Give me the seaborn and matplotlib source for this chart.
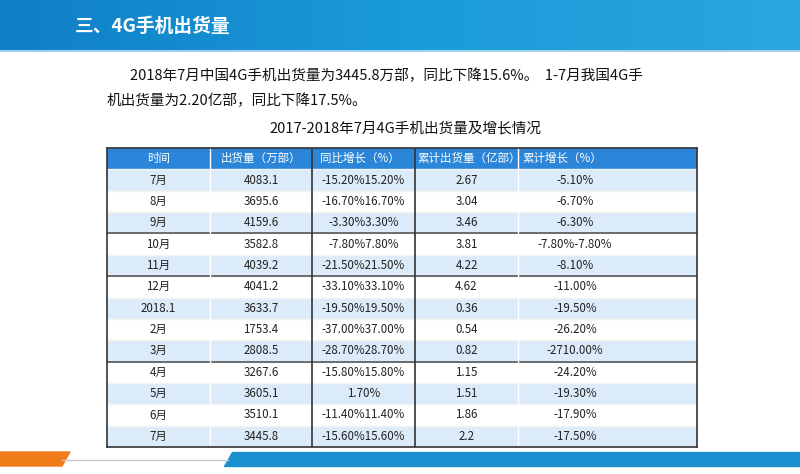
import matplotlib
matplotlib.use("Agg")
import matplotlib.pyplot as plt
import seaborn as sns
import numpy as np
from matplotlib.colors import ListedColormap
from matplotlib.patches import Polygon

sns.set_theme(style="white")
plt.rcParams["font.family"] = ["Noto Sans CJK SC", "Noto Sans CJK JP", "Noto Sans CJK TC", "DejaVu Sans"]
plt.rcParams["axes.unicode_minus"] = False

headers = ["时间", "出货量（万部）", "同比增长（%）", "累计出货量（亿部）", "累计增长（%）"]
months = ["7月", "8月", "9月", "10月", "11月", "12月", "2018.1", "2月", "3月", "4月", "5月", "6月", "7月"]
shipments = ["4083.1", "3695.6", "4159.6", "3582.8", "4039.2", "4041.2", "3633.7", "1753.4", "2808.5",
             "3267.6", "3605.1", "3510.1", "3445.8"]
yoy = ["-15.20%15.20%", "-16.70%16.70%", "-3.30%3.30%", "-7.80%7.80%", "-21.50%21.50%", "-33.10%33.10%",
       "-19.50%19.50%", "-37.00%37.00%", "-28.70%28.70%", "-15.80%15.80%", "1.70%", "-11.40%11.40%",
       "-15.60%15.60%"]
cum = ["2.67", "3.04", "3.46", "3.81", "4.22", "4.62", "0.36", "0.54", "0.82", "1.15", "1.51", "1.86", "2.2"]
cum_growth = ["-5.10%", "-6.70%", "-6.30%", "-7.80%-7.80%", "-8.10%", "-11.00%", "-19.50%", "-26.20%",
              "-2710.00%", "-24.20%", "-19.30%", "-17.90%", "-17.50%"]
col_edges = [0, 103, 205, 308, 411, 590]

fig = plt.figure(figsize=(8, 4.74), dpi=100)
bg = fig.add_axes([0, 0, 1, 1])
bg.set_xlim(0, 800); bg.set_ylim(474, 0); bg.axis("off")

# title bar
grad = np.linspace(0, 1, 256).reshape(1, -1)
bg.imshow(grad, extent=[0, 800, 50, 0], aspect="auto",
          cmap=ListedColormap(sns.blend_palette(["#0f7fc8", "#1a9ad8", "#2aa6e0"], 256)))
bg.plot([0, 800], [51, 51], color="#9fd0ee", lw=1.5)
bg.text(75, 26, "三、4G手机出货量", color="white", fontsize=13.5, fontweight="bold", va="center")

bg.text(130, 76, "2018年7月中国4G手机出货量为3445.8万部，同比下降15.6%。  1-7月我国4G手",
        fontsize=10.5, va="center", color="#111111")
bg.text(107, 101, "机出货量为2.20亿部，同比下降17.5%。", fontsize=10.5, va="center", color="#111111")
bg.text(405, 128, "2017-2018年7月4G手机出货量及增长情况", fontsize=10.5, va="center", ha="center",
        color="#111111")

# bottom decorations
bg.add_patch(Polygon([[0, 452], [70, 452], [62, 466], [0, 466]], color="#f07d1a"))
bg.add_patch(Polygon([[232, 452], [800, 452], [800, 466], [224, 466]], color="#1a8fd0"))
bg.plot([62, 228], [460, 460], color="#c8c8c8", lw=1)

# table
tax = fig.add_axes([107 / 800, 1 - 447 / 474, 590 / 800, 299 / 474])
n = len(months)
C = np.array([[2] * 5] + [[i % 2] * 5 for i in range(n)])
tax.pcolormesh(col_edges, np.arange(n + 2), C,
               cmap=ListedColormap(["#dcebf9", "#ffffff", "#2b86d9"]), vmin=0, vmax=2)
tax.set_xlim(0, 590); tax.set_ylim(n + 1, 0)
tax.set_xticks([]); tax.set_yticks([])
for s in tax.spines.values():
    s.set_color("#333333"); s.set_linewidth(1.2)
for r in range(1, n + 1):
    tax.axhline(r, color="#f4f4f4", lw=1)
for r in [4, 6, 10]:
    tax.axhline(r, color="#555555", lw=1.2)
for x in [103, 411]:
    tax.axvline(x, color="#ffffff", lw=1)
for x in [205, 308]:
    tax.axvline(x, color="#333333", lw=1.2)
centers = [(col_edges[i] + col_edges[i + 1]) / 2 for i in range(4)] + [468]
header_x = [centers[0], centers[1], col_edges[2] + 8, col_edges[3] + 2, col_edges[4] + 4]
header_ha = ["center", "center", "left", "left", "left"]
for x, h, ha in zip(header_x, headers, header_ha):
    tax.text(x, 0.5, h, color="white", fontsize=8.3, ha=ha, va="center")
for r in range(n):
    for c, col in enumerate([months, shipments, yoy, cum, cum_growth]):
        tax.text(centers[c], r + 1.5, col[r], fontsize=8.3, ha="center", va="center", color="#222222")

fig.savefig("out.png", dpi=100)
